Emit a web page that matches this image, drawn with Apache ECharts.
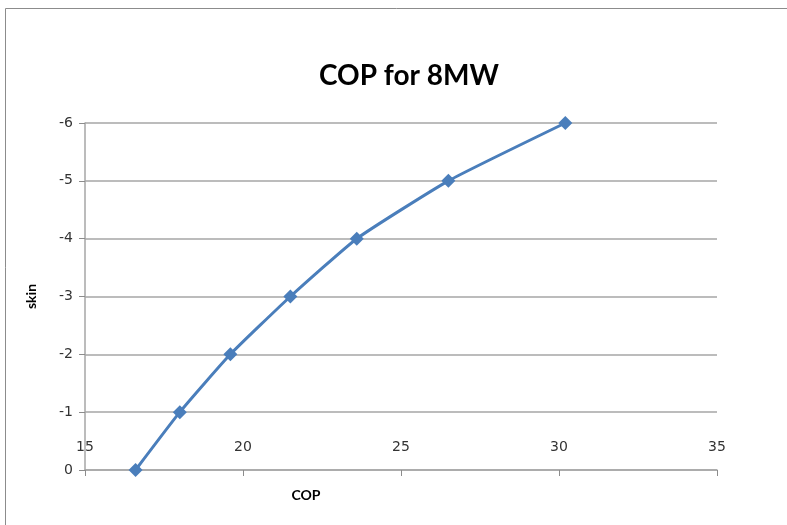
<!DOCTYPE html>
<html>
<head>
<meta charset="utf-8">
<script src="https://cdn.jsdelivr.net/npm/echarts@6/dist/echarts.min.js"></script>
<style>
html, body { margin: 0; padding: 0; background: #fff; }
#chart { width: 787px; height: 525px; }
</style>
</head>
<body>
<div id="chart"></div>
<script>
// COP vs skin
var copValues = [16.6, 18.0, 19.6, 21.5, 23.6, 26.5, 30.2];
var skinValues = [0, -1, -2, -3, -4, -5, -6];
var xTicks = [15, 20, 25, 30, 35];
var yTicks = [-6, -5, -4, -3, -2, -1, 0];

var points = copValues.map(function (c, i) { return [c, skinValues[i]]; });

var chart = echarts.init(document.getElementById('chart'));
var option = {
	animation: false,
	textStyle: { fontFamily: 'DejaVu Sans' },
	graphic: [{
		type: 'rect',
		shape: { x: 5.5, y: 8.5, width: 900, height: 700 },
		style: { fill: 'none', stroke: '#8c8c8c', lineWidth: 1 },
		silent: true
	}],
	title: {
		text: 'COP for 8MW',
		left: 314,
		top: 57,
		textStyle: {
			fontFamily: 'Lato',
			fontSize: 28,
			fontWeight: 'bold',
			color: '#000'
		}
	},
	grid: {
		left: 85,
		right: 70,
		top: 123,
		bottom: 55
	},
	xAxis: {
		type: 'value',
		min: xTicks[0],
		max: xTicks[xTicks.length - 1],
		interval: 5,
		name: 'COP',
		nameLocation: 'middle',
		nameGap: 18,
		nameTextStyle: {
			fontFamily: 'Lato',
			fontWeight: 'bold',
			fontSize: 14,
			color: '#000',
			padding: [0, 190, 0, 0]
		},
		axisLine: { show: true, lineStyle: { color: '#a6a6a6', width: 1.5 } },
		axisTick: { show: true, inside: false, length: 6, lineStyle: { color: '#8c8c8c' } },
		axisLabel: {
			inside: true,
			margin: 16,
			fontSize: 14,
			color: '#333'
		},
		splitLine: { show: false }
	},
	yAxis: {
		type: 'value',
		inverse: true,
		min: yTicks[0],
		max: yTicks[yTicks.length - 1],
		interval: 1,
		name: 'skin',
		nameLocation: 'middle',
		nameGap: 47,
		nameTextStyle: {
			fontFamily: 'Lato',
			fontWeight: 'bold',
			fontSize: 14,
			color: '#000'
		},
		axisLine: { show: true, lineStyle: { color: '#a6a6a6', width: 1.5 } },
		axisTick: { show: true, inside: false, length: 6, lineStyle: { color: '#8c8c8c' } },
		axisLabel: {
			margin: 12,
			fontSize: 14,
			color: '#333'
		},
		splitLine: { show: true, lineStyle: { color: '#a6a6a6', width: 1.5 } }
	},
	series: [{
		type: 'line',
		data: points,
		smooth: 0.15,
		symbol: 'diamond',
		symbolSize: 14,
		lineStyle: { color: '#4a7ebb', width: 3 },
		itemStyle: { color: '#4a7ebb' }
	}]
};
chart.setOption(option);
</script>
</body>
</html>
